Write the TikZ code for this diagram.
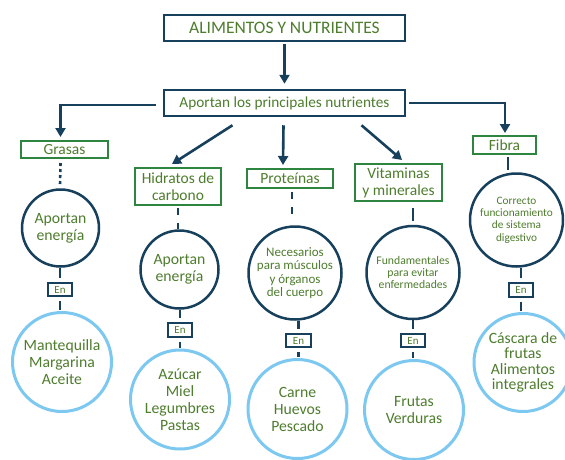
\documentclass[tikz,border=0pt]{standalone}
\usepackage{fontspec}
\setmainfont{Carlito}
\usetikzlibrary{arrows.meta,calc}
\definecolor{navy}{HTML}{17405C}
\definecolor{txtgreen}{HTML}{4E7D2E}
\definecolor{boxgreen}{HTML}{2E8540}
\definecolor{lblue}{HTML}{7CC8F0}
\newcommand\myfs[2]{\fontsize{#1}{#2}\selectfont}
\begin{document}
\begin{tikzpicture}[x=1pt,y=-1pt,
  navybox/.style={draw=navy, line width=2.5pt, text=txtgreen, inner sep=0, minimum width=241pt, minimum height=26pt},
  greenbox/.style={draw=boxgreen, line width=2pt, text=txtgreen, inner sep=0, align=center, font=\myfs{15.5}{17}},
  navycirc/.style={circle, draw=navy, line width=2.5pt, text=txtgreen, inner sep=0, align=center},
  bluecirc/.style={circle, draw=lblue, line width=3pt, text=txtgreen, inner sep=0, align=center, minimum size=99pt, font=\myfs{15.7}{17}},
  enbox/.style={draw=navy, line width=1.6pt, text=txtgreen, inner sep=0, minimum width=24.5pt, minimum height=13.5pt, font=\myfs{11}{12}},
  conn/.style={draw=navy, line width=2.6pt},
  arr/.style={conn, -{Triangle[length=9pt,width=10pt]}}]
\useasboundingbox (0,0) rectangle (565,459);
\fill[white] (0,0) rectangle (565,459);

% top boxes
\node[navybox, font=\myfs{17.5}{19}] (title) at (284.5,28) {ALIMENTOS Y NUTRIENTES};
\node[navybox, font=\myfs{15.3}{17}] (aport) at (284.5,103) {Aportan los principales nutrientes};

% category boxes
\node[greenbox, minimum width=87pt, minimum height=17pt] (grasas) at (64.5,149.5) {Grasas};
\node[greenbox, minimum width=86pt, minimum height=37pt] (hid) at (178,186.5) {Hidratos de\\carbono};
\node[greenbox, minimum width=86pt, minimum height=19pt] (prot) at (290,178.5) {Proteínas};
\node[greenbox, minimum width=87pt, minimum height=37pt] (vit) at (398.5,182.5) {Vitaminas\\y minerales};
\node[greenbox, minimum width=63pt, minimum height=18pt] (fibra) at (504.5,145) {Fibra};

% navy circles
\node[navycirc, minimum size=77pt, font=\myfs{15.7}{17}] (c1) at (60.5,228) {Aportan\\energía};
\node[navycirc, minimum size=78pt, font=\myfs{15.7}{17}] (c2) at (179.5,269.5) {Aportan\\energía};
\node[navycirc, minimum size=93pt, font=\myfs{13}{13.2}] (c3) at (295,273) {Necesarios\\para músculos\\y órganos\\del cuerpo};
\node[navycirc, minimum size=93pt, font=\myfs{11.7}{12}] (c4) at (413,272.5) {Fundamentales\\para evitar\\enfermedades};
\node[navycirc, minimum size=93pt, font=\myfs{11.3}{12.4}] (c5) at (516.5,220) {Correcto\\funcionamiento\\de sistema\\digestivo};

% En boxes
\node[enbox] (e1) at (60,289.5) {En};
\node[enbox] (e2) at (180,330) {En};
\node[enbox] (e3) at (298.5,340.5) {En};
\node[enbox] (e4) at (413,340.5) {En};
\node[enbox] (e5) at (521,290) {En};

% light blue circles
\node[bluecirc] (b1) at (62,362) {Mantequilla\\Margarina\\Aceite};
\node[bluecirc] (b2) at (180,399.5) {Azúcar\\Miel\\Legumbres\\Pastas};
\node[bluecirc] (b3) at (297.5,409) {Carne\\Huevos\\Pescado};
\node[bluecirc] (b4) at (414,410) {Frutas\\Verduras};
\node[bluecirc, minimum size=98pt, font=\myfs{15.7}{15.5}] (b5) at (523,362.5) {Cáscara de\\frutas\\Alimentos\\integrales};

% arrows
\draw[arr, shorten <=2pt, shorten >=5pt] (title) -- (aport);
\draw[arr, shorten >=3pt] ($(aport.west)+(-7,2)$) -| ($(grasas.north)+(-4,0)$);
\draw[arr, shorten >=2pt] ($(aport.east)+(3,0)$) -| ($(fibra.north)+(0.5,0)$);
\draw[arr] ($(aport.south)+(-52,8)$) -- ($(hid.north)+(-6,-3)$);
\draw[arr] ($(aport.south)+(-1,8)$) -- ($(prot.north)+(-7,-3)$);
\draw[arr] ($(aport.south)+(77,8)$) -- ($(vit.north)+(3.5,-3)$);

% box to circle
\draw[conn, dash pattern=on 3pt off 3pt] ($(grasas.south)+(-4,4)$) -- ($(c1.north)+(-0.5,-3)$);
\draw[conn, dash pattern=on 7pt off 8pt] ($(hid.south)+(0,2)$) -- (hid.south |- c2.north);
\draw[conn, dash pattern=on 7pt off 8pt] ($(prot.south)+(2,3)$) -- ($(prot.south |- c3.north)+(2,-10)$);
\draw[conn] ($(vit.south -| c4.north)+(0,6)$) -- ($(c4.north)+(0,-4)$);
\draw[conn] ($(fibra.south)+(3.5,2)$) -- ($(fibra.south |- c5.north)+(3.5,-2)$);

% circle to En to circle
\foreach \c/\e/\b in {c1/e1/b1, c2/e2/b2, c3/e3/b3, c4/e4/b4, c5/e5/b5}{
  \draw[conn, shorten >=4pt] (\e.north |- \c.south) -- (\e.north);
  \draw[conn, shorten <=4pt, shorten >=1pt] (\e.south) -- (\e.south |- \b.north);
}
\end{tikzpicture}
\end{document}
